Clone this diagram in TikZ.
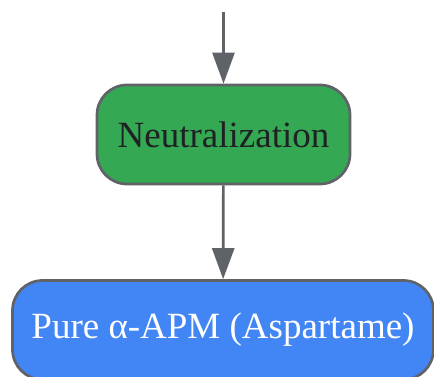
\documentclass[tikz,border=0pt]{standalone}
\usepackage{fontspec}
\setmainfont{Liberation Serif}
\usetikzlibrary{arrows.meta, positioning}
\definecolor{edgegray}{HTML}{5F6368}
\definecolor{stepgreen}{HTML}{34A853}
\definecolor{stepblue}{HTML}{4285F4}
\definecolor{darktext}{HTML}{202124}

\begin{document}
\begin{tikzpicture}[x=1pt, y=-1pt,
    every node/.style={font=\fontsize{37}{44}\selectfont},
    stepbox/.style={draw=edgegray, line width=2.7pt, rounded corners=30pt, minimum height=99pt, inner sep=0pt},
    flow/.style={edgegray, line width=2.7pt, -{Triangle[length=31pt, width=22pt]}}]
        % Canvas
        \useasboundingbox (0,0) rectangle (434,377);
        \clip (0,0) rectangle (434,377);
        % Nodes
        \coordinate (start) at (223.5,12);
        \node[stepbox, fill=stepgreen, text=darktext, minimum width=253pt] (neutral) at (223.5,134.5) {Neutralization};
        \node[stepbox, fill=stepblue, text=white, minimum width=421pt] (pure) at (223,330) {Pure α-APM (Aspartame)};
        % Arrows
        \draw[flow] (start) -- (neutral.north);
        \draw[flow] (neutral) -- (pure);
    \end{tikzpicture}
\end{document}
